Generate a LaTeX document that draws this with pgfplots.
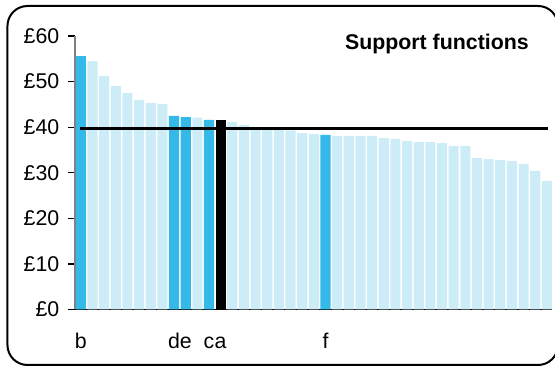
\documentclass[border=0pt]{standalone}
\usepackage{fontspec}
\setmainfont{Liberation Sans}
\usepackage{pgfplots}
\pgfplotsset{compat=1.18}
\definecolor{darkblue}{RGB}{53,185,233}
\definecolor{lightblue}{RGB}{204,236,248}
\begin{document}
\begin{tikzpicture}
\path[use as bounding box] (0pt,0pt) rectangle (416.25pt,274.5pt);
\begin{scope}
\clip (0pt,0pt) rectangle (416.25pt,274.5pt);
\draw[line width=1.5pt, rounded corners=15pt] (5.6pt,0.75pt) rectangle (418.5pt,270pt);
\end{scope}
\node[font=\fontsize{16}{18}\selectfont\bfseries, anchor=base east, inner sep=0pt] at (396.75pt,237pt) {Support functions};
\begin{axis}[
  at={(56.25pt,42.375pt)}, anchor=south west,
  scale only axis, width=357.75pt, height=205.1pt,
  xmin=-0.5, xmax=40.44, ymin=0, ymax=60,
  axis x line*=bottom, axis y line*=left,
  x axis line style={black, line width=1.2pt},
  y axis line style={gray, line width=1.5pt},
  tick align=outside, major tick length=5.25pt,
  ytick={0,10,20,30,40,50,60},
  yticklabels={£0,£10,£20,£30,£40,£50,£60},
  ytick style={black, line width=1pt},
  xtick={0,8,9,11,12,21},
  xticklabels={b,d,e,c,a,f},
  xtick style={draw=none},
  ticklabel style={font=\fontsize{16}{18}\selectfont},
  yticklabel style={anchor=east, inner sep=0pt, xshift=-6.3pt},
  xticklabel style={anchor=base, inner sep=0pt, yshift=-24pt},
  bar width=7.6pt,
  clip=false,
]
\addplot[ybar, bar shift=0pt, fill=lightblue, draw=none] coordinates {
(1,54.5) (2,51.2) (3,49.0) (4,47.5) (5,46.0) (6,45.3) (7,45.1)
(10,42.1) (13,41.1) (14,40.5) (15,40.0) (16,39.7) (17,39.5) (18,39.3)
(19,38.7) (20,38.5) (22,38.1) (23,38.1) (24,38.1) (25,38.1) (26,37.6)
(27,37.4) (28,37.0) (29,36.7) (30,36.7) (31,36.5) (32,35.9) (33,35.9)
(34,33.2) (35,33.0) (36,32.8) (37,32.6) (38,31.9) (39,30.4) (40,28.2)
};
\addplot[ybar, bar shift=0pt, fill=darkblue, draw=none] coordinates {
(0,55.6) (8,42.5) (9,42.2) (11,41.6) (21,38.3)
};
\addplot[ybar, bar shift=0pt, fill=black, draw=none] coordinates {
(12,41.6)
};
\addplot[black, line width=2pt, mark=none] coordinates {(-0.03,39.7) (40.1,39.7)};
\end{axis}
\end{tikzpicture}
\end{document}
